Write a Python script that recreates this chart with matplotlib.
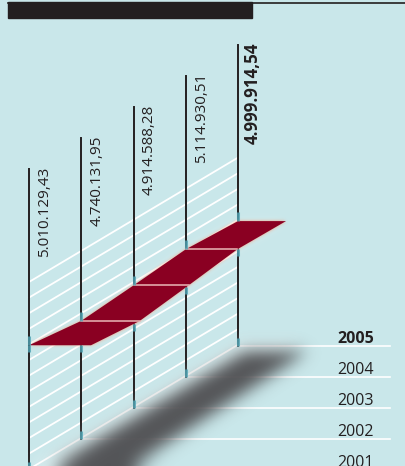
"""Perspective ribbon chart of yearly totals, 2001-2005."""
import matplotlib
import matplotlib.pyplot as plt
import numpy as np
from matplotlib.path import Path
from matplotlib.patches import Polygon, Rectangle

matplotlib.use("Agg")

years = ["2001", "2002", "2003", "2004", "2005"]
values = [5010129.43, 4740131.95, 4914588.28, 5114930.51, 4999914.54]
highlight = "2005"

plt.rcParams["font.family"] = ["Open Sans", "DejaVu Sans"]

W, H = 405, 466
BG = "#c9e7ea"
INK = "#231f20"
RED = "#8a0022"

# perspective layout (pixels)
X0, DX = 29, 52.25          # post spacing across
FLOOR0, DEPTH = 470, 31.1   # floor rises with each year
POST_H = 301
H0, K = 118, 25e-6          # ribbon height above floor per value unit
W0, WSHRINK = 62, 3.5       # ribbon width, narrowing with depth


def fmt(v):
    s = f"{v:,.2f}"
    return s.replace(",", "#").replace(".", ",").replace("#", ".")


idx = np.arange(len(years))
xs = X0 + DX * idx
floor = FLOOR0 - DEPTH * idx
vmin = min(values)
ys = floor - (H0 + K * (np.array(values) - vmin))
widths = W0 - WSHRINK * idx
tops = floor - POST_H

yy, xx = np.mgrid[0:H, 0:W] + 0.5
pts = np.column_stack([xx.ravel(), yy.ravel()])


def soft(poly, sigma):
    m = Path(poly).contains_points(pts).reshape(H, W).astype(float)

    def gmat(n):
        i = np.arange(n)
        g = np.exp(-0.5 * ((i[:, None] - i[None, :]) / sigma) ** 2)
        return g / g.sum(axis=1, keepdims=True)

    return gmat(H) @ m @ gmat(W).T


def layer(ax, mask, rgb, alpha, z):
    img = np.zeros((H, W, 4))
    img[..., :3] = rgb
    img[..., 3] = np.clip(alpha * mask, 0, 1)
    ax.imshow(img, extent=(0, W, H, 0), zorder=z, interpolation="bilinear")


fig = plt.figure(figsize=(W / 100, H / 100), dpi=100, facecolor=BG)
ax = fig.add_axes([0, 0, 1, 1])
ax.set_facecolor(BG)

# header bar and rule
ax.plot([8, W], [3, 3], color=INK, lw=1.2, zorder=2)
ax.add_patch(Rectangle((8, 1.5), 244, 16, color=INK, zorder=3))

# diagonal hatch along the depth direction
slope = DEPTH / DX
x_end = xs[-1]
for k in range(13):
    y0 = FLOOR0 - 188 + 15.6 * k
    ax.plot([X0, x_end], [y0, y0 - slope * (x_end - X0)],
            color="white", lw=1.3, zorder=1)

# floor rules under the year labels
for i, yr in enumerate(years):
    ax.plot([xs[i], 390], [floor[i], floor[i]], color="white", lw=1.2, zorder=1)
    bold = yr == highlight
    ax.text(374, floor[i] - 3, yr, ha="right", va="baseline", fontsize=11.5,
            color=INK, fontweight="bold" if bold else "normal", zorder=6)

# posts
for i in idx:
    ax.plot([xs[i], xs[i]], [tops[i], floor[i]], color=INK, lw=1.4, zorder=2)

# shadow of the ribbon on the floor (wider than the ribbon, soft edged)
sh_top = [(xs[i] + 8, floor[i] + 5) for i in idx]
sh_bot = [(xs[i] + widths[i] * 1.3 + 8, floor[i] + 5) for i in idx[::-1]]
shadow = np.array(sh_top + sh_bot)
layer(ax, soft(shadow + [-6, -9], 7), (1, 1, 1), 0.4, 2.5)
layer(ax, soft(shadow, 8), (0.3, 0.3, 0.31), 0.95, 2.6)

# ribbon
top_edge = [(xs[i], ys[i]) for i in idx]
bot_edge = [(xs[i] + widths[i], ys[i]) for i in idx[::-1]]
ribbon = np.array(top_edge + bot_edge)
layer(ax, soft(ribbon, 5), (1, 1, 1), 0.3, 2.7)
layer(ax, soft(ribbon, 1.6), (0.94, 0.64, 0.52), 1.0, 2.8)
ax.add_patch(Polygon(ribbon, closed=True, facecolor=RED, edgecolor="none", zorder=3))
for i in idx[1:-1]:
    ax.plot([xs[i], xs[i] + widths[i]], [ys[i], ys[i]], color="#eab8b8",
            lw=1.1, zorder=3.2)

# teal markers where posts meet ribbon and floor
bx = xs + widths
exit_y = np.interp(xs, bx, ys)
teal = "#4ea3b4"
for i in idx:
    ax.plot([xs[i], xs[i]], [ys[i] - 9, ys[i]], color=teal, lw=2.2,
            alpha=0.8, zorder=3.5, solid_capstyle="butt")
    ax.plot([xs[i], xs[i]], [exit_y[i], exit_y[i] + 7], color=teal, lw=2.2,
            alpha=0.8, zorder=3.5, solid_capstyle="butt")
    ax.plot([xs[i], xs[i]], [floor[i] - 8, floor[i]], color=teal, lw=2.2,
            alpha=0.8, zorder=3.5, solid_capstyle="butt")

# value labels along the posts
for i, v in enumerate(values):
    bold = years[i] == highlight
    ax.text(xs[i] + 19.5, tops[i] - 2.5, fmt(v), rotation=90,
            rotation_mode="anchor", ha="right", va="baseline",
            fontsize=12.2 if bold else 11,
            color=INK, fontweight="bold" if bold else "normal", zorder=6)

ax.set_xlim(0, W)
ax.set_ylim(H, 0)
ax.set_aspect("auto")
ax.axis("off")

fig.savefig("out.png", dpi=100, facecolor=BG)
